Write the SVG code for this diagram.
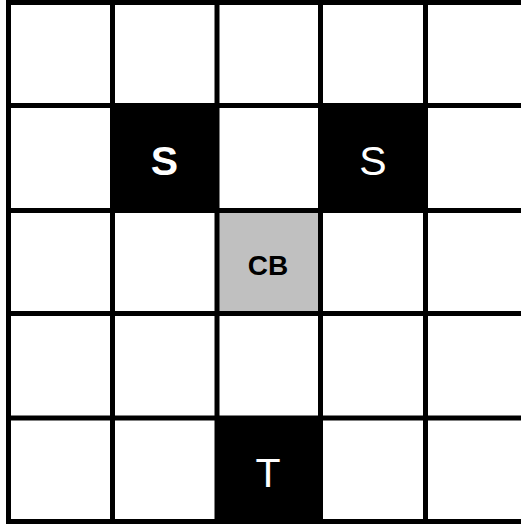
<svg xmlns="http://www.w3.org/2000/svg" width="521" height="524" viewBox="0 0 521 524">
<style>
.grid line{stroke:#000;stroke-width:5}
.lbl{font-family:"Liberation Sans",Arial,sans-serif;text-anchor:middle}
</style>
<rect x="0" y="0" width="521" height="524" fill="#fff"/>
<g id="cell-s1"><rect x="112" y="106" width="105" height="104" fill="#000"/><text class="lbl" x="164.5" y="175" font-size="41" font-weight="bold" fill="#fff">S</text></g>
<g id="cell-s2"><rect x="321" y="106" width="105" height="104" fill="#000"/><text class="lbl" x="373" y="175" font-size="41" fill="#fff">S</text></g>
<g id="cell-cb"><rect x="217" y="210" width="104" height="104" fill="#c0c0c0"/><text class="lbl" x="268" y="275" font-size="28" font-weight="bold" fill="#000">CB</text></g>
<g id="cell-t"><rect x="217" y="418" width="104" height="106" fill="#000"/><text class="lbl" x="268" y="487" font-size="41" fill="#fff">T</text></g>
<g id="connectors" class="grid">
<line x1="8.5" y1="0" x2="8.5" y2="524"/>
<line x1="112.5" y1="0" x2="112.5" y2="524"/>
<line x1="217" y1="0" x2="217" y2="524"/>
<line x1="320.5" y1="0" x2="320.5" y2="524"/>
<line x1="425.5" y1="0" x2="425.5" y2="524"/>
<line x1="6" y1="2.5" x2="521" y2="2.5"/>
<line x1="6" y1="105.5" x2="521" y2="105.5"/>
<line x1="6" y1="210.5" x2="521" y2="210.5"/>
<line x1="6" y1="313.5" x2="521" y2="313.5"/>
<line x1="6" y1="418" x2="521" y2="418"/>
<line x1="6" y1="521.5" x2="521" y2="521.5"/>
</g>
</svg>
